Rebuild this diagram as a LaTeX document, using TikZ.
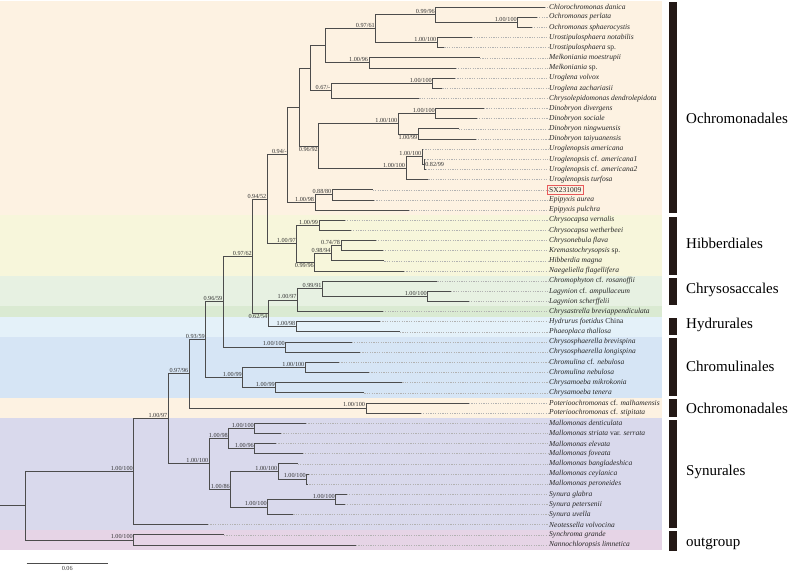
\documentclass[tikz,border=0pt]{standalone}
\usepackage{fontspec}
\setmainfont{Liberation Serif}
\usetikzlibrary{calc}

\definecolor{ochro}{HTML}{FDF2E2}
\definecolor{hibb}{HTML}{F7F6DB}
\definecolor{chryso}{HTML}{E7F1E2}
\definecolor{chrysodk}{HTML}{DAEAD2}
\definecolor{hydru}{HTML}{E4F1F9}
\definecolor{chromu}{HTML}{D6E5F5}
\definecolor{synu}{HTML}{D9D9EC}
\definecolor{outg}{HTML}{E6D4E6}
\definecolor{barcol}{HTML}{231815}
\definecolor{boxcol}{HTML}{E8595A}

\tikzstyle{branch}=[draw=black!70,line width=0.7pt]
\tikzstyle{leader}=[draw=black!30,line width=0.4pt,dash pattern=on 1.2pt off 1.2pt]
\tikzstyle{leaf}=[anchor=west,inner sep=1pt,text=black!85,font=\fontsize{7.5}{8}\selectfont]
\tikzstyle{support}=[anchor=south east,inner sep=0.8pt,text=black!80,font=\fontsize{6.2}{6.5}\selectfont]
\tikzstyle{support below}=[support,anchor=north east]
\tikzstyle{support right}=[support,anchor=west]
\tikzstyle{order}=[anchor=west,inner sep=0pt,font=\fontsize{15}{16}\selectfont]

% internal node: name, x, first child, last child
\newcommand{\clade}[4]{%
  \path ($(#3)!0.5!(#4)$) coordinate (m-#1);
  \coordinate (#1) at (#2,0 |- m-#1);
  \draw[branch] (#1) |- (#3);
  \draw[branch] (#1) |- (#4);
}

\begin{document}
\begin{tikzpicture}[x=1pt,y=-1pt]
\useasboundingbox (0,0) rectangle (790,576);

\foreach \top/\bot/\col in {1/215.1/ochro, 215.1/276/hibb, 276/306.4/chryso,
                            306.4/316.6/chrysodk, 316.6/336.9/hydru, 336.9/397.8/chromu,
                            397.8/418.1/ochro, 418.1/529.7/synu, 529.7/550/outg}{
  \fill[\col] (0,\top) rectangle (662,\bot);
}

\foreach \i/\tip/\name in {
  1/545/{\textit{Chlorochromonas danica}},
  2/536.7/{\textit{Ochromonas perlata}},
  3/531.7/{\textit{Ochromonas sphaerocystis}},
  4/471.7/{\textit{Urostipulosphaera notabilis}},
  5/444.3/{\textit{Urostipulosphaera} sp.},
  6/480/{\textit{Melkoniania moestrupii}},
  7/455.7/{\textit{Melkoniania} sp.},
  8/455/{\textit{Uroglena volvox}},
  9/442.3/{\textit{Uroglena zachariasii}},
  10/419.3/{\textit{Chrysolepidomonas dendrolepidota}},
  11/484/{\textit{Dinobryon divergens}},
  12/476.7/{\textit{Dinobryon sociale}},
  13/458.7/{\textit{Dinobryon ningwuensis}},
  14/475.7/{\textit{Dinobryon taiyuanensis}},
  15/423/{\textit{Uroglenopsis americana}},
  16/425/{\textit{Uroglenopsis} cf. \textit{americana1}},
  17/426/{\textit{Uroglenopsis} cf. \textit{americana2}},
  18/428.3/{\textit{Uroglenopsis turfosa}},
  19/372.7/{SX231009},
  20/374/{\textit{Epipyxis aurea}},
  21/409/{\textit{Epipyxis pulchra}},
  22/344.7/{\textit{Chrysocapsa vernalis}},
  23/350.7/{\textit{Chrysocapsa wetherbeei}},
  24/375.7/{\textit{Chrysonebula flava}},
  25/382.7/{\textit{Kremastochrysopsis} sp.},
  26/384.3/{\textit{Hibberdia magna}},
  27/404/{\textit{Naegeliella flagellifera}},
  28/437.3/{\textit{Chromophyton} cf. \textit{rosanoffii}},
  29/451/{\textit{Lagynion} cf. \textit{ampullaceum}},
  30/468.7/{\textit{Lagynion scherffelii}},
  31/382.7/{\textit{Chrysastrella breviappendiculata}},
  32/380/{\textit{Hydrurus foetidus} China},
  33/400/{\textit{Phaeoplaca thallosa}},
  34/351.7/{\textit{Chrysosphaerella brevispina}},
  35/360/{\textit{Chrysosphaerella longispina}},
  36/339/{\textit{Chromulina} cf. \textit{nebulosa}},
  37/369/{\textit{Chromulina nebulosa}},
  38/402.3/{\textit{Chrysamoeba mikrokonia}},
  39/364.3/{\textit{Chrysamoeba tenera}},
  40/469/{\textit{Poterioochromonas} cf. \textit{malhamensis}},
  41/420.7/{\textit{Poterioochromonas} cf. \textit{stipitata}},
  42/306/{\textit{Mallomonas denticulata}},
  43/281/{\textit{Mallomonas striata} var. \textit{serrata}},
  44/276/{\textit{Mallomonas elevata}},
  45/302.7/{\textit{Mallomonas foveata}},
  46/297.7/{\textit{Mallomonas bangladeshica}},
  47/309/{\textit{Mallomonas ceylanica}},
  48/307/{\textit{Mallomonas peroneides}},
  49/346.7/{\textit{Synura glabra}},
  50/344.7/{\textit{Synura petersenii}},
  51/293.3/{\textit{Synura uvella}},
  52/208/{\textit{Neotessella volvocina}},
  53/224/{\textit{Synchroma grande}},
  54/356/{\textit{Nannochloropsis limnetica}}}{
  \pgfmathsetmacro\yy{7+(\i-1)*10.15}
  \coordinate (t\i) at (\tip,\yy);
  \node[leaf] (L\i) at (548,\yy) {\name};
  \draw[leader] (t\i) -- (L\i.west);
}
\draw[boxcol,line width=0.5pt] ([xshift=-0.5pt,yshift=-0.8pt]L19.south west) rectangle ([xshift=1pt,yshift=0.5pt]L19.north east);

\foreach \n/\x/\a/\b in {nOchro/517.7/t2/t3, nChloro/435.7/t1/nOchro, nUrost/437.3/t4/t5,
    nA1/375.7/nChloro/nUrost, nMelk/369/t6/t7, nA2/325/nA1/nMelk,
    nUrogl/432.7/t8/t9, nA3/331.3/nUrogl/t10, nA4/310.7/nA2/nA3,
    nDin1/435.7/t11/t12, nDin2/418.3/t13/t14, nDin/398.3/nDin1/nDin2,
    nUgp2/424.3/t16/t17, nUgp1/422.3/t15/nUgp2, nUgp/406/nUgp1/t18,
    nDU/318.7/nDin/nUgp, nA5/299.3/nA4/nDU, nEpi2/332.3/t19/t20,
    nEpi/315/nEpi2/t21, nA6/287.7/nA5/nEpi, nHib1/319/t22/t23,
    nHib3/341/t24/t25, nHib4/331.5/nHib3/t26, nHib5/314.7/nHib4/t27,
    nHib/296.7/nHib1/nHib5, nA7/267.3/nA6/nHib, nLag/427.7/t29/t30,
    nChro/322.5/t28/nLag, nChs/297.5/nChro/t31, nHyd/296.3/t32/t33,
    nA8/268.3/nChs/nHyd, nA9/252.7/nA7/nA8, nCsp/285.7/t34/t35,
    nA10/223.3/nA9/nCsp, nCml/305.3/t36/t37, nCam/275.7/t38/t39,
    nA11/242.7/nCml/nCam, nA12/205.7/nA10/nA11, nPot/366/t40/t41,
    nA13/189.3/nA12/nPot, nMal1/254.7/t42/t43, nMal2/254.7/t44/t45,
    nMal3/228.7/nMal1/nMal2, nMal5/306.7/t47/t48, nMal4/278.3/t46/nMal5,
    nSyn1/335.7/t49/t50, nSyn/267.7/nSyn1/t51, nMal6/230.7/nMal4/nSyn,
    nSynu/209.3/nMal3/nMal6, nA14/168.3/nA13/nSynu, nIn/133.7/nA14/t52,
    nOut/133.7/t53/t54, root/25.7/nIn/nOut}{
  \clade{\n}{\x}{\a}{\b}
}
\coordinate (rootstub) at (root -| 0,0);
\draw[branch] (rootstub) -- (root);

\foreach \n/\val in {nOchro/{1.00/100}, nChloro/{0.99/96}, nUrost/{1.00/100}, nA1/{0.97/61},
    nMelk/{1.00/96}, nUrogl/{1.00/100}, nA3/{0.67/-}, nDin1/{1.00/100}, nDin/{1.00/100},
    nUgp1/{1.00/100}, nUgp/{1.00/100}, nEpi2/{0.88/80}, nEpi/{1.00/98}, nA6/{0.94/-},
    nHib1/{1.00/99}, nHib3/{0.74/78}, nHib4/{0.98/94}, nHib/{1.00/97}, nA7/{0.94/52},
    nLag/{1.00/100}, nChro/{0.99/91}, nChs/{1.00/97}, nHyd/{1.00/98}, nA9/{0.97/62},
    nCsp/{1.00/100}, nA10/{0.96/59}, nCml/{1.00/100}, nCam/{1.00/99}, nA11/{1.00/99},
    nA12/{0.93/59}, nPot/{1.00/100}, nA13/{0.97/96}, nMal1/{1.00/100}, nMal2/{1.00/96},
    nMal3/{1.00/98}, nMal5/{1.00/100}, nMal4/{1.00/100}, nSyn1/{1.00/100}, nSyn/{1.00/100},
    nMal6/{1.00/86}, nSynu/{1.00/100}, nA14/{1.00/97}, nIn/{1.00/100}, nOut/{1.00/100}}{
  \node[support] (s-\n) at (\n) {\val};
}
\foreach \n/\val in {nDin2/{1.00/99}, nDU/{0.96/92}, nHib5/{0.99/96}, nA8/{0.62/54}}{
  \node[support below] (s-\n) at (\n) {\val};
}
\node[support right] (s-nUgp2) at (nUgp2) {0.82/99};

\foreach \top/\bot/\ty/\name in {2/213/118/Ochromonadales, 217/274.5/243/Hibberdiales,
                                 278/304.5/290/Chrysosaccales, 318/335/325/Hydrurales,
                                 338/396/366/Chromulinales, 399/416.5/408/Ochromonadales,
                                 420/528/472/Synurales, 531/550.5/544/outgroup}{
  \fill[barcol] (669,\top) rectangle (677,\bot);
  \node[order] (g-\ty) at (686,\ty) {\name};
}

\coordinate (sb1) at (26.7,563.3);
\coordinate (sb2) at (107.7,563.3);
\draw[branch] (sb1) -- node[support,anchor=north,yshift=-2pt] (sblabel) {0.06} (sb2);
\end{tikzpicture}
\end{document}
